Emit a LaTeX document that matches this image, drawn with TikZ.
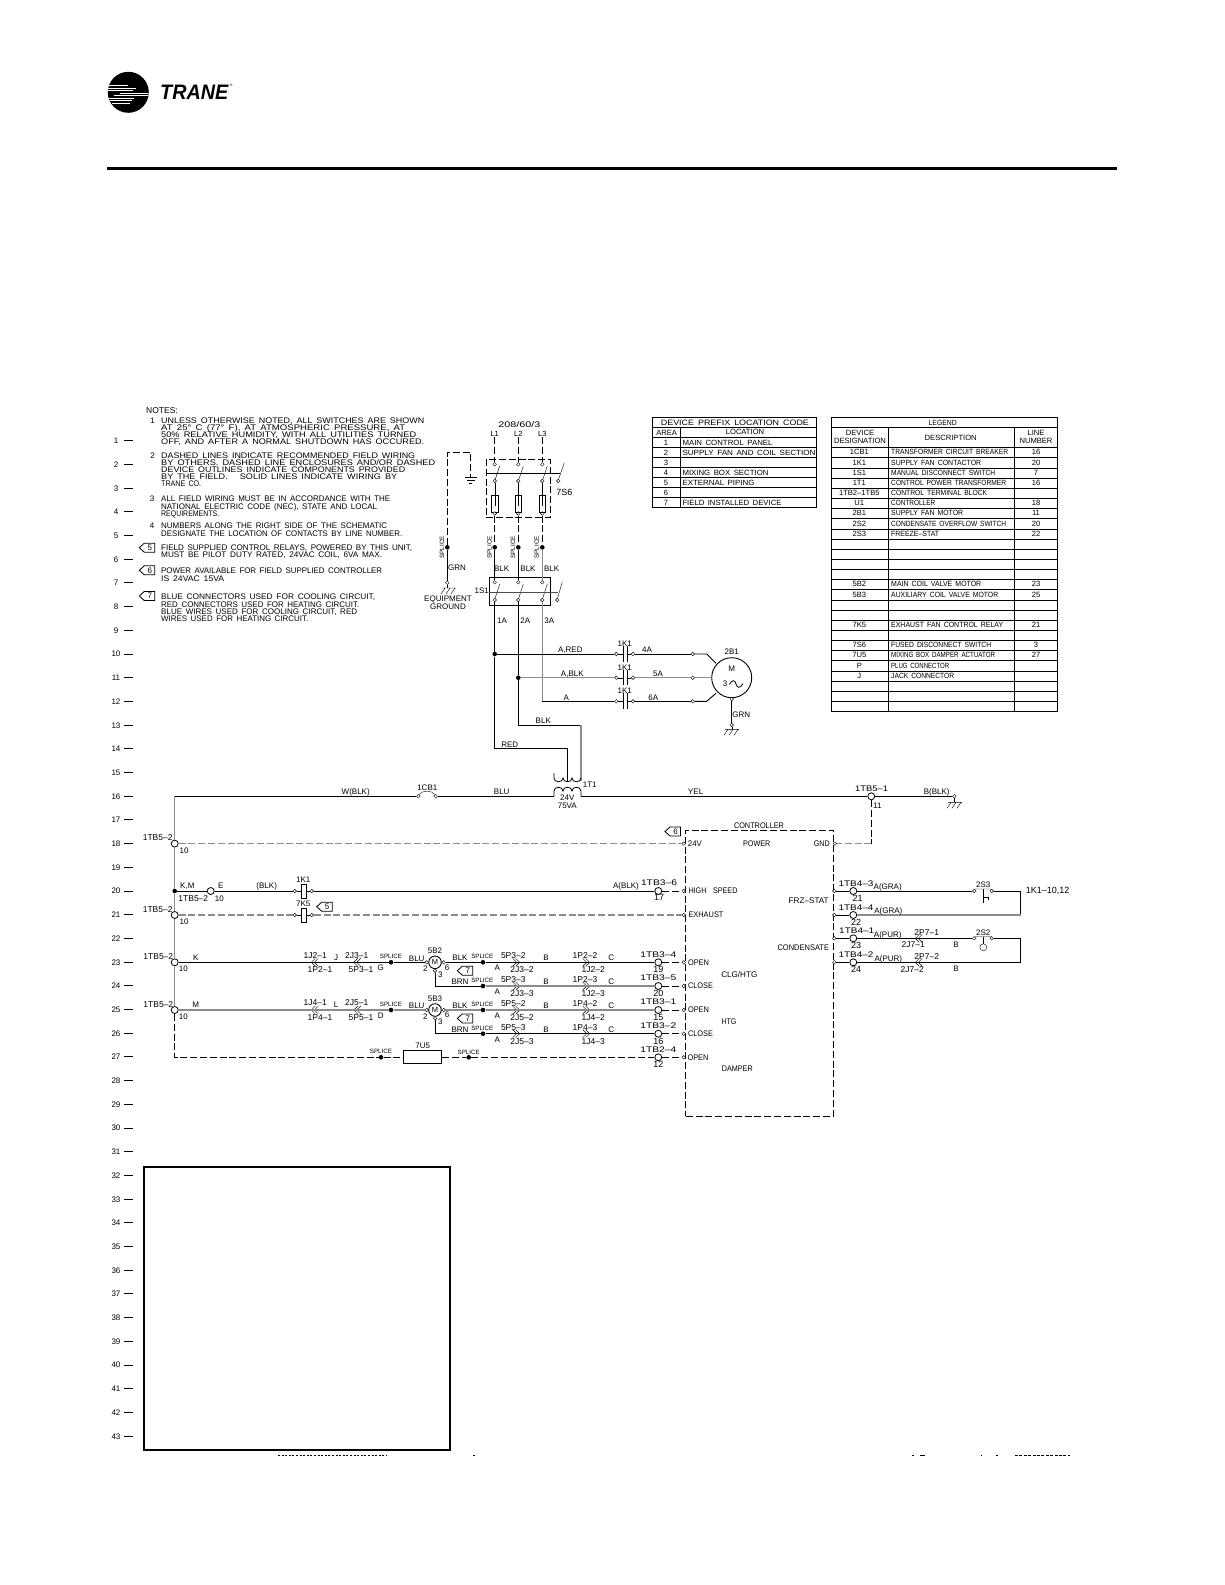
\documentclass[tikz,border=0pt]{standalone}
\usepackage{fontspec}
\usepackage{graphicx}
\setmainfont{Liberation Sans}[WordSpace=1.6]
\newcounter{tc}
\newsavebox\fitb
\definecolor{wg}{gray}{0.55}
\newcommand\fitbox[3]{\sbox\fitb{#3}\ht\fitb=7.16pt\dp\fitb=0pt\resizebox{#1pt}{#2pt}{\usebox\fitb}}
\newcommand\tlab[3][]{\stepcounter{tc}\node[lab,#1] (t\arabic{tc}) at (#2) {#3};}
\newcommand\tfit[4][west]{\stepcounter{tc}\node[anchor=#1,inner sep=0pt] (t\arabic{tc}) at (#2) {\fitbox{#3}{5.8}{#4}};}
\newcommand\flagnote[3]{\draw[line width=.8pt] (#1,#2) -- ++(5,-4.5) -- ++(10.5,0) -- ++(0,9) -- ++(-10.5,0) -- cycle;
  \pgfmathsetmacro\fx{#1+10.5}\tlab{\fx,#2}{#3}}
\newcommand\gnd[2]{\draw[thin] (#1-7,#2) -- (#1+7,#2)
   (#1+6,#2) -- ++(-4,6) (#1+1,#2) -- ++(-4,6) (#1-4,#2) -- ++(-4,6);}
\newcommand\chevL[2]{\draw[thin] (#1+1,#2-4) -- (#1-3,#2) -- (#1+1,#2+4) (#1+4,#2-4) -- (#1,#2) -- (#1+4,#2+4);}
\newcommand\chevR[2]{\draw[thin] (#1-1,#2-4) -- (#1+3,#2) -- (#1-1,#2+4) (#1-4,#2-4) -- (#1,#2) -- (#1-4,#2+4);}
% left part of a valve rung
\newcommand\vrung[9]{\begin{scope}[yshift=-#2pt]
  \node[tbc] (#1t) at (174.7,0) {};
  \node[jct] (#1s) at (391,0) {};
  \tlab[pn]{158.3,-5.6}{1TB5–2}\tlab{183.3,6.4}{10}\tlab{195.7,-5}{#3}
  \tlab[pn]{315.3,-7}{#4}\tlab[pn]{320,7.7}{#5}\tlab{336,-5}{#6}
  \tlab[pn]{356.7,-7}{#7}\tlab[pn]{361,7.7}{#8}\tlab{380.7,5.4}{#9}
  \tlab[sp]{391,-5.6}{SPLICE}\tlab{416.7,-4}{BLU}
  \chevL{314.3}{0}\chevL{356.7}{0}
\end{scope}}
% valve motor
\newcommand\vmotor[3]{\begin{scope}[yshift=-#2pt]
  \node[circle,draw,line width=.9pt,inner sep=0pt,minimum size=12.6pt,fill=white,font=\fontsize{7.5}{8}\selectfont] (#1c) at (435,0) {M};
  \node[term] (#1l) at (426.7,0) {};
  \node[term] (#1r) at (443.7,0) {};
  \node[term] (#1b) at (435,8.4) {};
  \coordinate (#1k) at (435,23.7);
  \tlab{435,-11.3}{#3}\tlab{425.3,6.7}{2}\tlab{447,5}{6}\tlab{440.3,12}{3}
\end{scope}}
% right part of a valve rung
\newcommand\rungR[9]{\begin{scope}[yshift=-#2pt]
  \node[jct] (#1s) at (483,0) {};
  \node[tbc] (#1t) at (658.3,0) {};
  \node[term] (#1o) at (683.7,0) {};
  \tlab[sp]{482.3,-5.8}{SPLICE}
  \tlab[pn]{513.3,-6.6}{#3}\tlab[pn]{522,7.7}{#4}\tlab{497.3,5.4}{A}\tlab{546,-4.6}{B}
  \tlab[pn]{585,-6.6}{#5}\tlab[pn]{593.3,7.7}{#6}\tlab{611.3,-4.6}{C}
  \tfit[center]{658.3,-8}{36}{#7}\tlab[pnn]{658.3,7.4}{#8}\tfit{687.8,0}#9
  \chevR{516.7}{0}\chevR{586.7}{0}
\end{scope}}
\newcommand\noteln[3]{\tfit{161,#1}{#2}{#3}}
\newcommand\legrow[5]{\pgfmathsetmacro\ry{447.2+10.15*(#1-.5)}
  \tlab[tbl]{859.3,\ry}{#2}\stepcounter{tc}\node[anchor=west,inner sep=0pt] (t\arabic{tc}) at (891,\ry) {\fitbox{#3}{5.4}{#4}};\tlab[tbl]{1036,\ry}{#5}}
\newcommand\prerow[4]{\pgfmathsetmacro\ry{432.5+10*#1}
  \tlab[tbl]{666,\ry}{#2}\stepcounter{tc}\node[anchor=west,inner sep=0pt] (t\arabic{tc}) at (682.3,\ry) {\fitbox{#3}{5.4}{#4}};}
\newcommand\prenum[1]{\pgfmathsetmacro\ry{432.5+10*#1}\tlab[tbl]{666,\ry}{#1}}
\tikzset{
  lab/.style={inner sep=0pt,text height=5.8pt,text depth=0pt,font=\fontsize{8}{9}\selectfont},
  pn/.style={font=\fontsize{8.5}{9}\selectfont},
  pnn/.style={font=\fontsize{9}{10}\selectfont},
  tbl/.style={text height=5.4pt,font=\fontsize{7.6}{8}\selectfont},
  sp/.style={text height=4.4pt,font=\fontsize{6.2}{7}\selectfont},
  term/.style={circle,draw,thin,inner sep=0pt,minimum size=3.6pt,fill=white},
  tbc/.style={circle,draw,line width=.8pt,inner sep=0pt,minimum size=7pt,fill=white},
  jct/.style={circle,fill=black,inner sep=0pt,minimum size=4.6pt},
  wire/.style={line width=.9pt},
  wireg/.style={line width=1.3pt,draw=wg},
  field/.style={line width=.9pt,dash pattern=on 7pt off 2.8pt},
  fieldg/.style={line width=1.3pt,draw=wg,dash pattern=on 7pt off 2.8pt},
  fuse/.style={rectangle,draw,thin,inner sep=0pt,minimum width=6.5pt,minimum height=17pt},
  coil/.style={rectangle,draw,thin,inner sep=0pt,minimum width=5pt,minimum height=14pt,fill=white}
}
\begin{document}
\begin{tikzpicture}[x=1pt,y=-1pt]
\useasboundingbox (0,0) rectangle (1225,1585);
\fill[white] (0,0) rectangle (1225,1585);

% ---------- logo and header rule
\node[circle,fill=black,inner sep=0pt,minimum size=41pt] (logo) at (128.3,92.3) {};
\begin{scope}
 \clip (128.3,92.3) circle (20.5);
 \draw[white,line width=.8pt] (108,85) -- (128,85) (108,88) -- (136,88) (108,90.5) -- (133,90.5)
   (120,93) -- (150,93) (114,95.5) -- (150,95.5) (108,98) -- (134,98) (108,100.5) -- (132,100.5) (112,103) -- (130,103);
\end{scope}
\node[inner sep=0pt,anchor=west] (logotext) at (160,91.5) {\fitbox{68}{15}{\bfseries\itshape TRANE}};
\node[inner sep=0pt,font=\fontsize{3.5}{4}\selectfont] (logoreg) at (231.5,85) {®};
\draw[line width=3pt] (107,168.3) -- (1117,168.3);

% ---------- rung numbers
\foreach \n in {1,...,43}{
  \pgfmathsetmacro\yy{417+23.7*\n}
  \node[lab,font=\fontsize{8}{9}\selectfont] (n\n) at (116,\yy) {\n};
  \draw[line width=.9pt] (124,\yy) -- (133,\yy);
}

% ---------- notes
\tlab[anchor=west,pn]{146,410.7}{NOTES:}
\tlab{152.7,421}{1}
\noteln{421}{263}{UNLESS OTHERWISE NOTED, ALL SWITCHES ARE SHOWN}
\noteln{427.7}{244}{AT 25° C (77° F), AT ATMOSPHERIC PRESSURE, AT}
\noteln{434.5}{255}{50\% RELATIVE HUMIDITY, WITH ALL UTILITIES TURNED}
\noteln{442}{263}{OFF, AND AFTER A NORMAL SHUTDOWN HAS OCCURED.}
\tlab{152.7,455.3}{2}
\noteln{455.3}{254}{DASHED LINES INDICATE RECOMMENDED FIELD WIRING}
\noteln{462.7}{274}{BY OTHERS. DASHED LINE ENCLOSURES AND/OR DASHED}
\noteln{470}{244}{DEVICE OUTLINES INDICATE COMPONENTS PROVIDED}
\noteln{477}{236}{BY THE FIELD.\ \ \ SOLID LINES INDICATE WIRING BY}
\noteln{484}{40}{TRANE CO.}
\tlab{152,499}{3}
\noteln{499}{229}{ALL FIELD WIRING MUST BE IN ACCORDANCE WITH THE}
\noteln{507}{216}{NATIONAL ELECTRIC CODE (NEC), STATE AND LOCAL}
\noteln{514}{58}{REQUIREMENTS.}
\tlab{152,526}{4}
\noteln{526}{226}{NUMBERS ALONG THE RIGHT SIDE OF THE SCHEMATIC}
\noteln{534}{241}{DESIGNATE THE LOCATION OF CONTACTS BY LINE NUMBER.}
\flagnote{139.3}{547.7}{5}
\noteln{547.3}{251}{FIELD SUPPLIED CONTROL RELAYS, POWERED BY THIS UNIT,}
\noteln{555}{221}{MUST BE PILOT DUTY RATED, 24VAC COIL, 6VA MAX.}
\flagnote{139.3}{570.3}{6}
\noteln{570.3}{221}{POWER AVAILABLE FOR FIELD SUPPLIED CONTROLLER}
\noteln{578.3}{63}{IS 24VAC 15VA}
\flagnote{139.3}{596}{7}
\noteln{596.7}{214}{BLUE CONNECTORS USED FOR COOLING CIRCUIT,}
\noteln{604.3}{198}{RED CONNECTORS USED FOR HEATING CIRCUIT.}
\noteln{611.7}{196}{BLUE WIRES USED FOR COOLING CIRCUIT, RED}
\noteln{619}{147}{WIRES USED FOR HEATING CIRCUIT.}

% ---------- device prefix table
\draw[line width=.9pt] (652.7,417.7) rectangle (816.7,507.7);
\foreach \i in {1,...,9}{\draw[line width=.8pt] (652.7,{417.7+10*\i}) -- (816.7,{417.7+10*\i});}
\draw[line width=.9pt] (680.7,427.7) -- (680.7,507.7);
\node[inner sep=0pt] (pretitle) at (734.9,422.7) {\fitbox{148}{5.6}{DEVICE PREFIX LOCATION CODE}};
\tlab[tbl]{666.7,432.5}{AREA}\tlab[tbl]{745,432.2}{LOCATION}
\prerow{1}{1}{90}{MAIN CONTROL PANEL}
\prerow{2}{2}{133}{SUPPLY FAN AND COIL SECTION}
\prenum{3}
\prerow{4}{4}{86}{MIXING BOX SECTION}
\prerow{5}{5}{72}{EXTERNAL PIPING}
\prenum{6}
\prerow{7}{7}{99}{FIELD INSTALLED DEVICE}

% ---------- legend table
\draw[line width=.9pt] (831,417.3) rectangle (1057.7,711.7);
\draw[line width=.8pt] (831,427.3) -- (1057.7,427.3);
\foreach \i in {0,...,25}{\draw[line width=.8pt] (831,{447.7+10.15*\i}) -- (1057.7,{447.7+10.15*\i});}
\draw[line width=.9pt] (888.3,427.3) -- (888.3,711.7) (1014.3,427.3) -- (1014.3,711.7);
\node[inner sep=0pt] (legtitle) at (942.7,422.3) {\fitbox{28}{5.4}{LEGEND}};
\tlab[tbl]{860,433}{DEVICE}\tlab[tbl]{860,441}{DESIGNATION}\tlab[tbl]{950.7,437.3}{DESCRIPTION}
\tlab[tbl]{1036,433}{LINE}\tlab[tbl]{1036,441}{NUMBER}
\legrow{1}{1CB1}{117}{TRANSFORMER CIRCUIT BREAKER}{16}
\legrow{2}{1K1}{90}{SUPPLY FAN CONTACTOR}{20}
\legrow{3}{1S1}{104}{MANUAL DISCONNECT SWITCH}{7}
\legrow{4}{1T1}{115}{CONTROL POWER TRANSFORMER}{16}
\legrow{5}{1TB2–1TB5}{96}{CONTROL TERMINAL BLOCK}{}
\legrow{6}{U1}{44}{CONTROLLER}{18}
\legrow{7}{2B1}{72}{SUPPLY FAN MOTOR}{11}
\legrow{8}{2S2}{115}{CONDENSATE OVERFLOW SWITCH}{20}
\legrow{9}{2S3}{48}{FREEZE–STAT}{22}
\legrow{14}{5B2}{90}{MAIN COIL VALVE MOTOR}{23}
\legrow{15}{5B3}{107}{AUXILIARY COIL VALVE MOTOR}{25}
\legrow{18}{7K5}{112}{EXHAUST FAN CONTROL RELAY}{21}
\legrow{20}{7S6}{100}{FUSED DISCONNECT SWITCH}{3}
\legrow{21}{7U5}{104}{MIXING BOX DAMPER ACTUATOR}{27}
\legrow{22}{P}{58}{PLUG CONNECTOR}{}
\legrow{23}{J}{63}{JACK CONNECTOR}{}

% ---------- disconnect and power section
\tfit[center]{519.3,425}{42}{208/60/3}
\node[jct] (spg) at (447.3,547.3) {};
\node[term] (gt1) at (447.3,582.7) {};
\coordinate (gc1) at (447.3,452.3);
\coordinate (gc2) at (470.7,452.3);
\coordinate (gc3) at (470.7,477);
\draw[field] (spg) -- (gc1) -- (gc2) -- (gc3);
\draw[line width=.9pt] (464.7,477.5) -- (476.7,477.5) (466.7,480.5) -- (474.7,480.5) (469,483.5) -- (472.4,483.5);
\draw[wire] (spg) -- (gt1);
\draw[thin] (gt1) -- (447.3,588);
\gnd{449}{588}
\tlab[sp,rotate=90]{442,547.3}{SPLICE}
\tlab{457,568}{GRN}
\tlab{448,599}{EQUIPMENT}
\tlab{448,606.7}{GROUND}
\node[rectangle,draw,line width=.9pt,dash pattern=on 7pt off 2.8pt,inner sep=0pt,minimum width=64.3pt,minimum height=58pt] (box7s6) at (518.2,488.3) {};
\node[rectangle,draw,line width=.9pt,inner sep=0pt,minimum width=61pt,minimum height=27.6pt] (box1s1) at (519.8,591.5) {};
\foreach \n/\x/\i/\c/\w/\lx in {a/494.7/1/black/.9/489.3,b/518.3/2/black/.9/513,c/542.3/3/wg/1.3/536.7}{
  \node[lab,font=\fontsize{7.5}{8}\selectfont] (L\n) at (\x,434) {L\i};
  \node[term] (st\n) at (\x,464.3) {};
  \node[term] (sm\n) at (\x,481) {};
  \node[fuse] (fu\n) at (\x,503.5) {};
  \node[term] (sb\n) at (\x,513.5) {};
  \node[jct] (sp\n) at (\x,547.3) {};
  \node[term] (dt\n) at (\x,582.3) {};
  \node[term] (db\n) at (\x,600) {};
  \draw[field] (L\n) -- (st\n);
  \draw[thin] (\x+.5,479.5) -- (\x+5,466);
  \draw[thin] (sm\n) -- (fu\n) (\x,495) -- (\x,506) (fu\n) -- (sb\n);
  \draw[field] (sb\n) -- (sp\n);
  \draw[line width=\w pt,draw=\c] (sp\n) -- (dt\n);
  \draw[thin] (\x+.5,598) -- (\x+5,584);
  \node[lab,sp,rotate=90] (spl\n) at (\lx,547.3) {SPLICE};
}
\draw[thin] (486,473.3) -- (560,473.3);
\node[term] (arm7) at (558.3,481) {};
\draw[thin] (558.6,479.2) -- (564.3,462.7);
\tlab[pnn]{564.3,492.3}{7S6}
\draw[thin,draw=black!70] (489.3,591.7) -- (558,591.7);
\node[term] (arm1) at (557.3,600) {};
\draw[thin] (557.6,598.2) -- (562.3,581.7);
\tlab{481.7,591}{1S1}
\tlab{501.7,568.3}{BLK}\tlab{528,568.3}{BLK}\tlab{551.7,568.3}{BLK}
\tlab{502,621}{1A}\tlab{525.3,621}{2A}\tlab{549.3,621}{3A}

% ---------- fan motor rungs
\node[jct] (j10) at (494.7,654) {};
\node[jct] (j11) at (518.3,677.7) {};
\coordinate (c3a) at (542.3,701.3);
\coordinate (redc) at (494.7,748.7);
\coordinate (redd) at (567.3,748.7);
\coordinate (tp1) at (567.3,782);
\coordinate (blkc) at (518.3,725.3);
\coordinate (blkd) at (581,725.3);
\coordinate (tp2) at (581,781);
\foreach \r/\y/\p/\q in {1/654/646/661.7,2/677.7/670/685,3/701.3/693/709}{
  \node[term] (kl\r) at (616.3,\y) {};
  \node[term] (kr\r) at (633,\y) {};
  \node[term] (tm\r) at (692.7,\y) {};
  \draw[thin] (kl\r) -- (622.7,\y) (622.7,\p) -- (622.7,\q) (627,\p) -- (627,\q) (627,\y) -- (kr\r);
}
\tlab{624.7,644}{1K1}\tlab{624.7,667.7}{1K1}\tlab{624.7,690.7}{1K1}
\node[circle,draw,line width=.9pt,inner sep=0pt,minimum size=40pt] (m2b1) at (731.7,677.7) {};
\node[term] (m2g) at (731.7,699) {};
\node[term] (gt3) at (731.7,725) {};
\coordinate (mk1) at (706.7,654);
\coordinate (mk3) at (706.7,701.3);
\coordinate (mp1) at (716,663.3);
\coordinate (mp3) at (716,693.3);
\draw[wire] (dba) -- (j10) -- (redc) -- (redd) -- (tp1);
\draw[wire] (dbb) -- (j11) -- (blkc);
\draw[wire] (blkc) -- (blkd);
\draw[wireg] (blkd) -- (tp2);
\draw[wireg] (dbc) -- (c3a);
\draw[wire] (c3a) -- (kl3);
\draw[wire] (j10) -- (kl1);
\draw[wireg] (j11) -- (kl2);
\draw[wire] (kr1) -- (tm1);
\draw[wire] (tm1) -- (mk1) -- (mp1);
\draw[wireg] (kr2) -- (tm2);
\draw[wireg] (tm2) -- (m2b1);
\draw[wire] (kr3) -- (tm3);
\draw[wire] (tm3) -- (mk3) -- (mp3);
\draw[wire] (m2g) -- (gt3);
\draw[thin] (gt3) -- (731.7,729.3);
\gnd{732}{729.3}
\tlab{731.7,651.7}{2B1}\tlab{731.7,668.3}{M}\tlab{725,684}{3}
\draw[line width=.8pt] (729.5,684.5) .. controls (732,679) and (735,680) .. (736,684) .. controls (737,688) and (740,689) .. (743,683.5);
\tlab{741.3,714.7}{GRN}
\tlab{570.3,650}{A,RED}\tlab{572.3,673.7}{A,BLK}\tlab{566.3,697.7}{A}
\tlab{647,650}{4A}\tlab{658,673.7}{5A}\tlab{653.3,697.7}{6A}
\tlab{543.3,721}{BLK}\tlab{509.7,744.3}{RED}

% ---------- transformer
\draw[line width=.8pt] (554,773) -- (554,778) .. controls (554,783) and (563,783) .. (563,778)
   .. controls (563,783) and (572,783) .. (572,778) .. controls (572,783) and (581,783) .. (581,778);
\coordinate (xpl) at (554,796.3);
\coordinate (xpr) at (581,796.3);
\draw[line width=.8pt] (xpl) -- (554,791) .. controls (554,786) and (563,786) .. (563,791)
   .. controls (563,786) and (572,786) .. (572,791) .. controls (572,786) and (581,786) .. (581,791) -- (xpr);
\tlab{589.7,784.3}{1T1}\tlab{567.3,798}{24V}\tlab{567.3,806}{75VA}

% ---------- rung 16
\coordinate (c16) at (174.7,796.3);
\node[term] (cba) at (418.3,796.3) {};
\node[term] (cbb) at (435.7,796.3) {};
\node[tbc] (tb51) at (871.3,796.3) {};
\node[term] (gt2) at (954.3,796.3) {};
\draw[wire] (c16) -- (cba);
\draw[thin] (cba) .. controls (422,790) and (432,790) .. (cbb);
\draw[wire] (cbb) -- (xpl);
\draw[wire] (xpr) -- (tb51) -- (gt2);
\draw[thin] (gt2) -- (954.3,802.3);
\gnd{955}{802.3}
\tlab{355.7,791.7}{W(BLK)}\tlab{427.3,787.3}{1CB1}\tlab{501.7,792}{BLU}\tlab{695.7,792}{YEL}
\tfit[center]{871.7,789}{33}{1TB5–1}\tlab{877.3,805.3}{11}\tlab{936.7,791.7}{B(BLK)}

% ---------- controller
\node[rectangle,draw,line width=.9pt,dash pattern=on 7pt off 2.8pt,inner sep=0pt,minimum width=147.6pt,minimum height=286pt] (ctrl) at (759.5,973) {};
\tfit[center]{759,826}{50}{CONTROLLER}
\node[term] (c24) at (683.7,843.6) {};
\node[term] (cgnd) at (835,843.6) {};
\coordinate (gndc) at (871.3,843.6);
\draw[field] (tb51) -- (gndc);
\draw[fieldg] (gndc) -- (cgnd);
\tfit{687.7,843.7}{14}{24V}\tfit[center]{756.7,844}{27.3}{POWER}\tfit[east]{830,844}{16}{GND}
\flagnote{665}{831.5}{6}
\tfit[center]{739.3,974.3}{36}{CLG/HTG}\tfit[center]{729,1021.7}{15}{HTG}\tfit[center]{737.3,1068.7}{31}{DAMPER}
\tfit[center]{808.7,900.3}{40}{FRZ–STAT}\tfit[center]{803.3,947.3}{51.5}{CONDENSATE}

% ---------- rungs 18 to 21
\node[tbc] (tb18) at (174.7,843.6) {};
\node[jct] (j20) at (174.7,891) {};
\node[tbc] (tb20) at (210.7,891) {};
\node[tbc] (tb36) at (658.3,891) {};
\node[tbc] (tb21) at (174.7,915) {};
\node[coil] (k1) at (303.5,891) {};
\node[coil] (k5) at (303.5,915) {};
\node[term] (k1l) at (294.7,891) {};
\node[term] (k1r) at (311.7,891) {};
\node[term] (k5l) at (294.7,915) {};
\node[term] (k5r) at (311.7,915) {};
\node[term] (chs) at (683.7,891) {};
\node[term] (cex) at (683.7,915) {};
\draw[fieldg] (tb18) -- (c24);
\draw[wire] (j20) -- (tb20) -- (k1l);
\draw[thin] (k1l) -- (k1) -- (k1r);
\draw[wire] (k1r) -- (tb36);
\draw[field] (tb36) -- (chs);
\draw[fieldg] (tb21) -- (k5l);
\draw[thin] (k5l) -- (k5) -- (k5r);
\draw[fieldg] (k5r) -- (cex);
\tlab[pn]{157.7,837.3}{1TB5–2}\tlab{184,850.7}{10}
\tlab{187.3,886}{K,M}\tlab[pn]{193.3,898.7}{1TB5–2}\tlab{219.3,898.7}{10}\tlab{220.7,886}{E}
\tlab{266.7,886}{(BLK)}\tlab{303.3,880}{1K1}
\tlab{626,886}{A(BLK)}\tfit[center]{659,883}{36}{1TB3–6}\tlab[pnn]{659,898}{17}
\tfit{688.3,891}{49}{HIGH\ \ SPEED}
\tlab[pn]{157.7,910}{1TB5–2}\tlab{184,921.3}{10}\tlab{303.3,904}{7K5}
\flagnote{316.7}{906.7}{5}
\tfit{688.3,915}{35}{EXHAUST}

% ---------- valve rungs
\vrung{ra}{962.3}{K}{1J2–1}{1P2–1}{J}{2J3–1}{5P3–1}{G}
\vrung{rb}{1010}{M}{1J4–1}{1P4–1}{L}{2J5–1}{5P5–1}{D}
\vmotor{va}{962.3}{5B2}
\vmotor{vb}{1010}{5B3}
\rungR{rc}{962.3}{5P3–2}{2J3–2}{1P2–2}{1J2–2}{1TB3–4}{19}{{21}{OPEN}}
\rungR{rd}{986}{5P3–3}{2J3–3}{1P2–3}{1J2–3}{1TB3–5}{20}{{25}{CLOSE}}
\rungR{re}{1010}{5P5–2}{2J5–2}{1P4–2}{1J4–2}{1TB3–1}{15}{{21}{OPEN}}
\rungR{rf}{1033.7}{5P5–3}{2J5–3}{1P4–3}{1J4–3}{1TB3–2}{16}{{25}{CLOSE}}
\flagnote{457.3}{970.7}{7}
\flagnote{457.3}{1018.4}{7}
\tlab{460,957.7}{BLK}\tlab{460,981.7}{BRN}\tlab{460,1005.4}{BLK}\tlab{460,1029.4}{BRN}
\draw[wireg] (c16) -- (tb18) -- (j20) -- (tb21) -- (rat) -- (rbt);
\draw[wire] (rat) -- (ras) -- (val);
\draw[wire] (var) -- (rcs) -- (rct);
\draw[wire] (vab) -- (vak) -- (rds);
\draw[wireg] (rds) -- (rdt);
\draw[wireg] (rbt) -- (rbs);
\draw[wireg] (rbs) -- (vbl);
\draw[wireg] (vbr) -- (res);
\draw[wireg] (res) -- (ret);
\draw[wire] (vbb) -- (vbk) -- (rfs);
\draw[wire] (rfs) -- (rft);
\draw[field] (rct) -- (rco) (rdt) -- (rdo) (ret) -- (reo) (rft) -- (rfo);

% ---------- rung 27
\node[jct] (sp27a) at (381,1057.3) {};
\node[jct] (sp27b) at (468.7,1057.3) {};
\node[rectangle,draw,line width=1pt,inner sep=0pt,minimum width=38pt,minimum height=13pt] (u5) at (422.7,1057.3) {};
\node[tbc] (tb27) at (658.3,1057.3) {};
\node[term] (t27) at (683.7,1057.3) {};
\draw[field] (rbt) |- (sp27a);
\draw[field] (sp27a) -- (u5);
\draw[field] (u5) -- (sp27b) -- (tb27) -- (t27);
\tlab[sp]{381,1051.7}{SPLICE}\tlab[sp]{468.7,1052.3}{SPLICE}\tlab{422.7,1046}{7U5}
\tfit[center]{658.3,1050}{36}{1TB2–4}\tlab[pnn]{658.3,1064.7}{12}\tfit{687.3,1057.3}{21}{OPEN}

% ---------- right hand rungs
\foreach \r/\y in {1/891,2/915,3/938.3,4/962.3}{
  \node[term] (rt\r) at (834.3,\y) {};
  \node[tbc] (rc\r) at (853.3,\y) {};
}
\node[term] (s3l) at (974.3,891) {};
\node[term] (s3r) at (991.7,891) {};
\node[term] (s2l) at (974.3,938.3) {};
\node[term] (s2r) at (991.7,938.3) {};
\node[circle,draw,thin,inner sep=0pt,minimum size=7pt] (flt) at (983.3,947.3) {};
\coordinate (cr1) at (1020.7,891);
\coordinate (cr2) at (1020.7,915);
\coordinate (cr3) at (1020.7,938.3);
\coordinate (cr4) at (1020.7,962.3);
\draw[wire] (rt1) -- (rc1) -- (s3l);
\draw[wire] (s3r) -- (cr1) -- (cr2);
\draw[wireg] (cr2) -- (rc2);
\draw[thin] (rc2) -- (rt2);
\draw[wire] (rt3) -- (rc3) -- (s2l);
\draw[wire] (s2r) -- (cr3) -- (cr4) -- (rc4) -- (rt4);
\draw[thin] (s3l) -- (975.5,889) -- (990.5,889) -- (s3r);
\draw[thin] (s2l) -- (975.5,936.5) -- (990.5,936.5) -- (s2r);
\draw[thin] (983.3,889) -- (983.3,902.7) (983.3,897) -- (988,897) -- (988,900);
\draw[thin] (983.3,936.5) -- (flt);
\chevL{918.3}{938.3}\chevL{918.3}{962.3}
\tfit[center]{856,884}{35}{1TB4–3}\tlab[pnn]{857.7,899}{21}\tlab{887.7,886.7}{A(GRA)}
\tfit[center]{856,907.3}{35}{1TB4–4}\tlab[pnn]{856,922.7}{22}\tlab{888.3,910.7}{A(GRA)}
\tfit[center]{856.7,931}{35}{1TB4–1}\tlab[pnn]{856,946}{23}\tlab{887.7,934.3}{A(PUR)}
\tfit[center]{856,954.3}{35}{1TB4–2}\tlab[pnn]{856,970}{24}\tlab{888.3,958.3}{A(PUR)}
\tlab[pn]{926.7,932.3}{2P7–1}\tlab[pn]{913.3,945}{2J7–1}\tlab{956,944.3}{B}
\tlab[pn]{926.7,956.7}{2P7–2}\tlab[pn]{912.3,969.3}{2J7–2}\tlab{956,968.3}{B}
\tlab{983.3,884.7}{2S3}\tlab{983.3,932.3}{2S2}\tlab[pnn]{1047.7,891}{1K1–10,12}

% ---------- blank panel and clipped trace of the footer
\node[rectangle,draw,line width=2.2pt,inner sep=0pt,minimum width=306pt,minimum height=283.3pt] (panel) at (297,1308.3) {};
\draw[line width=1pt,dash pattern=on 2pt off 1.6pt] (278,1455.5) -- (387,1455.5);
\draw[line width=1pt] (473,1455.5) -- (475,1455.5) (912,1455.5) -- (914,1455.5) (920,1455.5) -- (925,1455.5) (981,1455.5) -- (982,1455.5) (996,1455.5) -- (998,1455.5);
\draw[line width=1pt,dash pattern=on 3pt off 1.4pt] (1015,1455.5) -- (1070,1455.5);
\end{tikzpicture}
\end{document}
